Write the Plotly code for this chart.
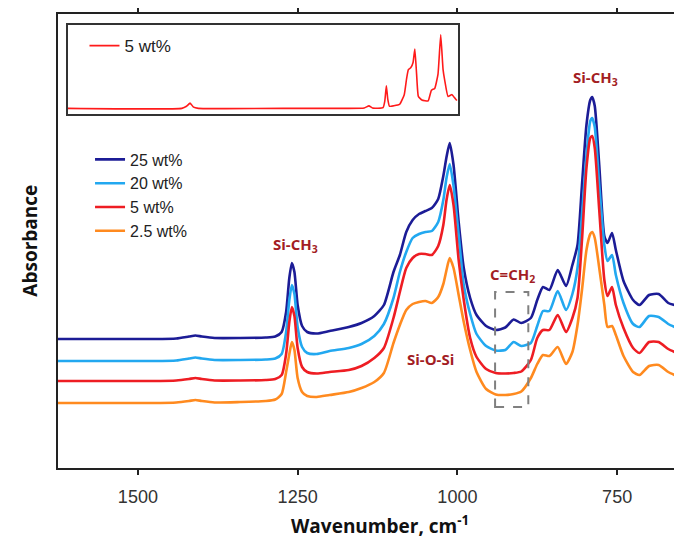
import plotly.graph_objects as go

# ---- data ----
wavenumber = [1625, 1560, 1480, 1440, 1420, 1410, 1400, 1380, 1340, 1300,
              1285, 1275, 1268, 1263, 1259, 1255, 1250, 1243, 1235, 1220,
              1200, 1170, 1150, 1130, 1115, 1100, 1090, 1080, 1070, 1060,
              1050, 1040, 1030, 1022, 1017, 1012, 1006, 998, 990, 980,
              970, 955, 940, 925, 912, 900, 885, 875, 866, 856,
              843, 830, 820, 812, 805, 798, 792, 789, 785, 778,
              770, 765, 758, 752, 740, 725, 715, 700, 685, 670,
              660]

abs_25 = [1.29, 1.29, 1.29, 1.295, 1.315, 1.325, 1.315, 1.30, 1.30, 1.305,
          1.315, 1.36, 1.56, 1.90, 2.05, 1.96, 1.63, 1.42, 1.36, 1.345,
          1.37, 1.41, 1.45, 1.52, 1.63, 1.96, 2.13, 2.36, 2.48, 2.54,
          2.57, 2.60, 2.69, 2.92, 3.11, 3.25, 3.03, 2.46, 2.00, 1.70,
          1.53, 1.42, 1.38, 1.405, 1.485, 1.45, 1.50, 1.68, 1.81, 1.78,
          1.98, 1.82, 2.03, 2.23, 2.83, 3.43, 3.68, 3.71, 3.62, 3.03,
          2.32, 2.25, 2.35, 2.18, 1.87, 1.68, 1.63, 1.73, 1.74, 1.65,
          1.63]

abs_20 = [1.07, 1.07, 1.07, 1.075, 1.095, 1.105, 1.095, 1.08, 1.08, 1.085,
          1.095, 1.14, 1.36, 1.68, 1.83, 1.74, 1.41, 1.21, 1.15, 1.14,
          1.17, 1.20, 1.24, 1.32, 1.44, 1.70, 1.96, 2.16, 2.30, 2.34,
          2.36, 2.37, 2.46, 2.68, 2.90, 3.04, 2.82, 2.33, 1.83, 1.54,
          1.34, 1.22, 1.175, 1.18, 1.26, 1.22, 1.25, 1.42, 1.57, 1.57,
          1.77, 1.58, 1.74, 2.00, 2.53, 3.13, 3.47, 3.50, 3.41, 2.83,
          2.23, 2.07, 2.13, 1.93, 1.65, 1.44, 1.41, 1.52, 1.51, 1.44,
          1.41]

abs_5 = [0.87, 0.87, 0.87, 0.875, 0.89, 0.90, 0.89, 0.875, 0.875, 0.88,
         0.89, 0.93, 1.14, 1.46, 1.61, 1.52, 1.20, 1.01, 0.96, 0.945,
         0.96, 0.98, 1.02, 1.10, 1.20, 1.50, 1.76, 2.00, 2.10, 2.14,
         2.14, 2.13, 2.22, 2.43, 2.68, 2.83, 2.63, 2.08, 1.68, 1.30,
         1.11, 0.99, 0.95, 0.945, 0.95, 0.965, 1.08, 1.30, 1.38, 1.38,
         1.53, 1.36, 1.50, 1.70, 2.28, 3.00, 3.30, 3.32, 3.20, 2.58,
         1.88, 1.72, 1.81, 1.63, 1.40, 1.20, 1.15, 1.26, 1.26, 1.19,
         1.16]

abs_2_5 = [0.65, 0.65, 0.65, 0.655, 0.67, 0.68, 0.67, 0.655, 0.66, 0.67,
           0.685, 0.74, 0.96, 1.14, 1.26, 1.18, 0.90, 0.76, 0.72, 0.71,
           0.73, 0.76, 0.80, 0.86, 0.95, 1.25, 1.43, 1.58, 1.64, 1.66,
           1.67, 1.65, 1.71, 1.84, 1.98, 2.10, 2.00, 1.73, 1.46, 1.18,
           0.96, 0.79, 0.735, 0.73, 0.74, 0.765, 0.90, 1.04, 1.13, 1.12,
           1.21, 1.04, 1.16, 1.43, 1.78, 2.18, 2.34, 2.36, 2.30, 2.00,
           1.63, 1.41, 1.42, 1.33, 1.12, 0.96, 0.93, 1.02, 1.03, 0.96,
           0.93]

inset_wavenumber = [3970, 3000, 2960, 2930, 2900, 2860, 2000, 1700, 1450, 1410,
                    1380, 1290, 1275, 1262, 1250, 1235, 1200, 1150, 1110, 1090,
                    1075, 1055, 1035, 1020, 1005, 990, 960, 907, 879, 851,
                    823, 800, 780, 766, 738, 704, 667, 660]
inset_abs_5 = [0.067, 0.067, 0.09, 0.125, 0.08, 0.067, 0.067, 0.067, 0.07, 0.095,
               0.07, 0.075, 0.15, 0.32, 0.17, 0.09, 0.095, 0.11, 0.22, 0.40,
               0.50, 0.52, 0.58, 0.73, 0.45, 0.20, 0.16, 0.15, 0.27, 0.29,
               0.45, 0.89, 0.5, 0.38, 0.2, 0.22, 0.16, 0.16]

series_names = ["25 wt%", "20 wt%", "5 wt%", "2.5 wt%"]
series_values = [abs_25, abs_20, abs_5, abs_2_5]
series_colors = ["#1C1C96", "#22A8F0", "#EE1D23", "#FF8A1F"]

major_ticks = [1500, 1250, 1000, 750]
all_ticks = [1562.5, 1500, 1437.5, 1375, 1312.5, 1250, 1187.5, 1125, 1062.5,
             1000, 937.5, 875, 812.5, 750, 687.5]

# annotation labels (text, wavenumber, absorbance)
peak_labels = [("Si-CH<sub>3</sub>", 1253, 2.23),
               ("Si-CH<sub>3</sub>", 784, 3.90),
               ("Si-O-Si", 1042, 1.09),
               ("C=CH<sub>2</sub>", 914, 1.93)]
box_wn = [941, 889]
box_abs = [0.61, 1.76]

x_range = [1625, 661]
y_range = [0, 4.54]

AXC = "#222222"
LBL = "Liberation Sans, Arial, sans-serif"
BOLD = "Open Sans, sans-serif"

fig = go.Figure()
for name, vals, col in zip(series_names, series_values, series_colors):
    fig.add_trace(go.Scatter(x=wavenumber, y=vals, mode="lines", name=name,
                             line=dict(color=col, width=2.6, shape="spline", smoothing=0.6),
                             xaxis="x", yaxis="y", legend="legend"))

fig.add_trace(go.Scatter(x=inset_wavenumber, y=inset_abs_5, mode="lines", name="5 wt%",
                         line=dict(color="#FF1A1A", width=1.6, shape="spline", smoothing=0.4),
                         xaxis="x2", yaxis="y2", legend="legend2"))

annotations = []
for txt, xw, ya in peak_labels:
    annotations.append(dict(text=txt, x=xw, y=ya, xref="x", yref="y", showarrow=False,
                            font=dict(family=BOLD, size=15, color="#A31D24", weight="bold")))
annotations.append(dict(text="Absorbance", x=-0.046, y=0.5, xref="paper", yref="paper",
                        textangle=-90, showarrow=False, xanchor="center", yanchor="middle",
                        font=dict(family=BOLD, size=19, color="#111111", weight="bold")))
annotations.append(dict(text="Wavenumber, cm<sup>-1</sup>", x=0.523, y=-0.125,
                        xref="paper", yref="paper", showarrow=False,
                        xanchor="center", yanchor="middle",
                        font=dict(family=BOLD, size=19, color="#111111", weight="bold")))

fig.update_layout(
    width=674, height=542,
    margin=dict(l=58, r=0, t=14, b=74),
    paper_bgcolor="white", plot_bgcolor="white",
    showlegend=True,
    xaxis=dict(range=x_range, autorange=False, domain=[0, 1],
               tickmode="array", tickvals=major_ticks, ticktext=[str(v) for v in major_ticks],
               ticks="outside", ticklen=4.5, tickwidth=2, tickcolor=AXC,
               ticklabelstandoff=7,
               showline=True, linewidth=2, linecolor=AXC, mirror="ticks",
               showgrid=False, zeroline=False,
               tickfont=dict(family=LBL, size=18, color="#333333")),
    xaxis3=dict(range=x_range, autorange=False, overlaying="x", anchor="y",
                tickmode="array", tickvals=all_ticks, showticklabels=False,
                ticks="inside", ticklen=4, tickwidth=1.6, tickcolor=AXC,
                showline=False, mirror="ticks", showgrid=False, zeroline=False),
    yaxis=dict(range=y_range, autorange=False, domain=[0, 1],
               showticklabels=False, ticks="", showline=True, linewidth=2,
               linecolor=AXC, mirror=False, showgrid=False, zeroline=False),
    xaxis2=dict(domain=[0.0157, 0.649], anchor="y2", range=[3970, 655], autorange=False,
                showticklabels=False, ticks="", showline=True, linewidth=1.5,
                linecolor="#333333", mirror=True, showgrid=False, zeroline=False),
    yaxis2=dict(domain=[0.779, 0.976], anchor="x2", range=[0, 1], autorange=False,
                showticklabels=False, ticks="", showline=True, linewidth=1.5,
                linecolor="#333333", mirror=True, showgrid=False, zeroline=False),
    legend=dict(x=0.052, y=0.717, xanchor="left", yanchor="top",
                bgcolor="rgba(0,0,0,0)", borderwidth=0,
                font=dict(family=LBL, size=16, color="#222222")),
    legend2=dict(x=0.043, y=0.969, xanchor="left", yanchor="top",
                 bgcolor="rgba(0,0,0,0)", borderwidth=0,
                 font=dict(family=LBL, size=17, color="#222222")),
    annotations=annotations,
    shapes=[dict(type="rect", xref="x", yref="y", x0=box_wn[0], x1=box_wn[1],
                 y0=box_abs[0], y1=box_abs[1],
                 line=dict(color="#808080", width=2, dash="dash"))],
)

fig.write_html("out.html", config={"displayModeBar": False},
               post_script="document.body.style.margin='0px';")
